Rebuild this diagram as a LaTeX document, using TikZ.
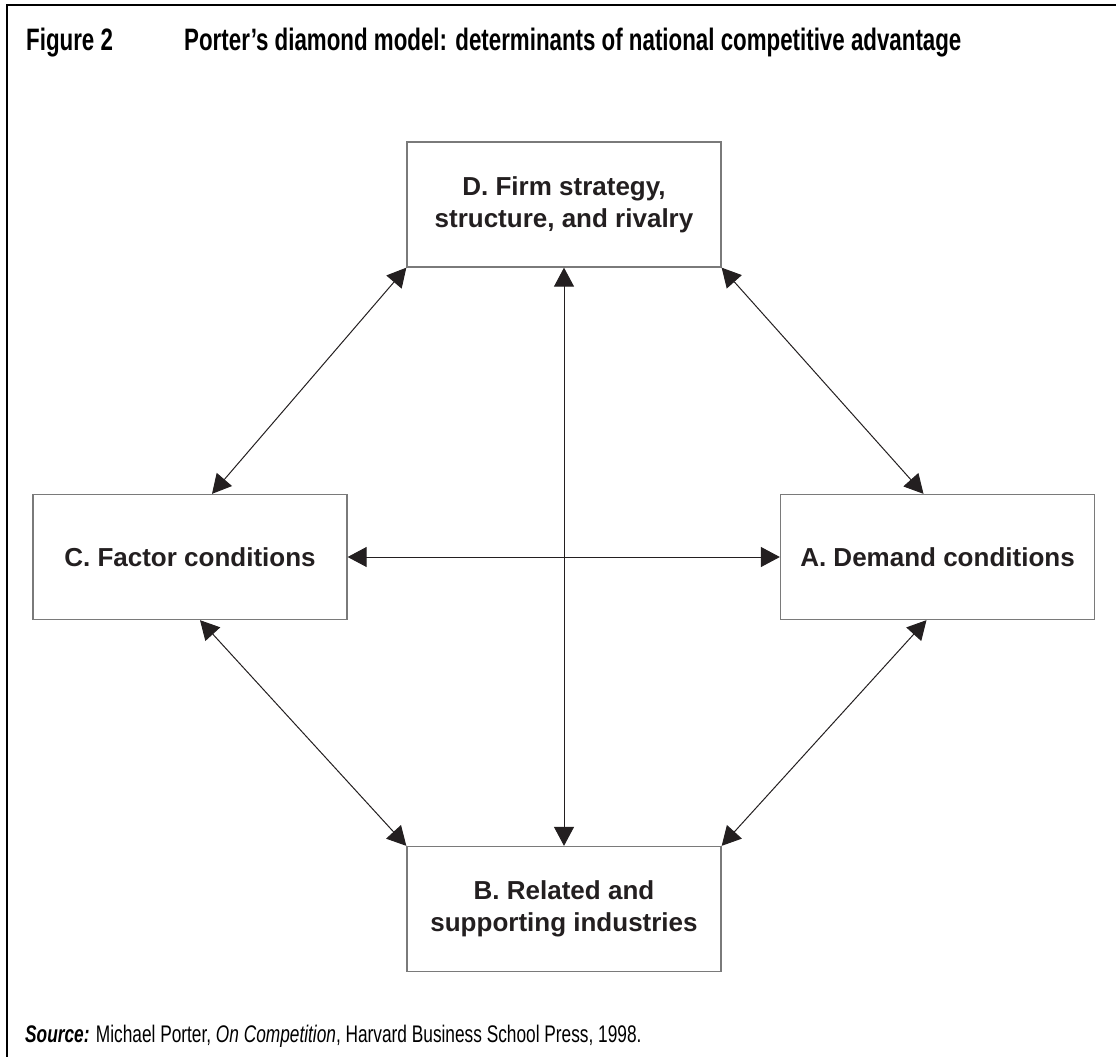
\documentclass[tikz,border=0pt]{standalone}
\usepackage{fontspec}
\setmainfont{Liberation Sans}
\newfontfamily\condfont[FakeStretch=0.72]{Liberation Sans}
\usetikzlibrary{arrows.meta}
\definecolor{ink}{HTML}{231F20}
\definecolor{boxline}{HTML}{7A7A7A}

\begin{document}
\begin{tikzpicture}[x=1pt,y=-1pt,
  factor/.style={draw=boxline, line width=1.3pt, minimum width=314pt, minimum height=125pt,
    align=center, inner sep=0pt, text=ink, font=\fontsize{26}{32}\selectfont\bfseries},
  link/.style={draw=ink, line width=1pt,
    {Triangle[length=19pt,width=20pt]}-{Triangle[length=19pt,width=20pt]}},
  caption/.style={anchor=base west, inner sep=0pt, text=black}
]
\useasboundingbox (0,0) rectangle (1116,1057);

% open frame: top and left rules
\draw[line width=2pt] (1116,5) -- (7,5) -- (7,1057);

% heading
\node[caption, font=\condfont\bfseries\fontsize{31}{36}\selectfont] (fignum) at (26,51) {Figure 2};
\node[caption, font=\condfont\bfseries\fontsize{31}{36}\selectfont] (title) at (184,51)
  {Porter’s diamond model: determinants of national competitive advantage};

% the four determinants
\node[factor] (D) at (564,204.5) {D. Firm strategy,\\structure, and rivalry};
\node[factor] (C) at (190,557) {C. Factor conditions};
\node[factor] (A) at (937.5,557) {A. Demand conditions};
\node[factor] (B) at (564,909) {B. Related and\\supporting industries};

% two-way influences
\draw[link] (D.south west) -- ([xshift=22pt]C.north);
\draw[link] (D.south east) -- ([xshift=-14pt]A.north);
\draw[link] ([xshift=10pt]C.south) -- (B.north west);
\draw[link] ([xshift=-11pt]A.south) -- (B.north east);
\draw[link] (C.east) -- (A.west);
\draw[link] (D.south) -- (B.north);

% source note
\node[caption, font=\condfont\fontsize{24}{28}\selectfont] (source) at (25,1042)
  {\textbf{\textit{Source:}} Michael Porter, \textit{On Competition}, Harvard Business School Press, 1998.};
\end{tikzpicture}
\end{document}
